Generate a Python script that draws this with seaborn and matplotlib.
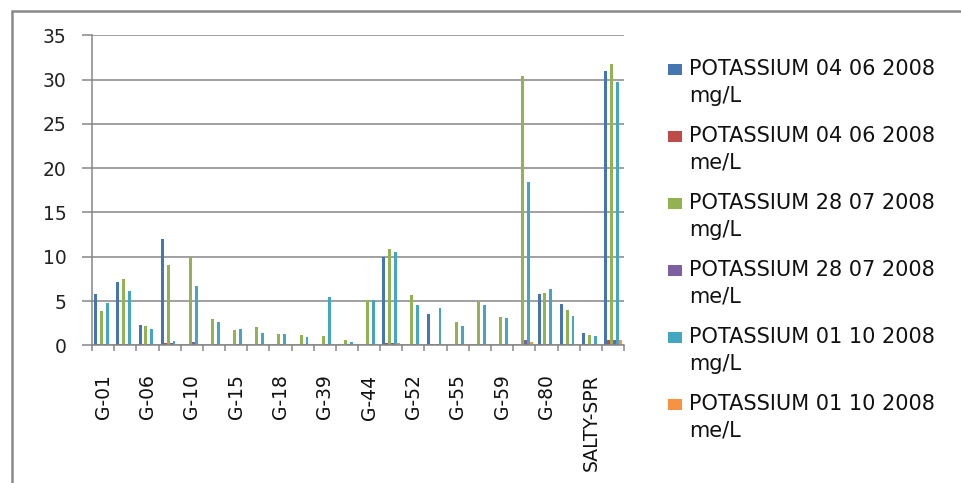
import numpy as np
import pandas as pd
import matplotlib
matplotlib.use("Agg")
import matplotlib.pyplot as plt
from matplotlib.lines import Line2D
from matplotlib.patches import Rectangle
import seaborn as sns

nan = np.nan

# Sampling sites (24 positions; only every other one carries a tick label)
tick_labels = ["G-01", "", "G-06", "", "G-10", "", "G-15", "", "G-18", "",
               "G-39", "", "G-44", "", "G-52", "", "G-55", "", "G-59", "",
               "G-80", "", "SALTY-SPR", ""]

series_names = [
    "POTASSIUM 04 06 2008\nmg/L",
    "POTASSIUM 04 06 2008\nme/L",
    "POTASSIUM 28 07 2008\nmg/L",
    "POTASSIUM 28 07 2008\nme/L",
    "POTASSIUM 01 10 2008\nmg/L",
    "POTASSIUM 01 10 2008\nme/L",
]

k_0406_mg = [5.8, 7.2, 2.3, 12.0, nan, nan, nan, nan, nan, nan, nan, nan,
             nan, 10.0, nan, 3.5, nan, nan, nan, nan, 5.8, 4.7, 1.4, 31.0]
k_0406_me = [0.15, 0.18, 0.12, 0.3, nan, nan, nan, nan, nan, nan, nan, nan,
             nan, 0.26, nan, 0.12, nan, nan, nan, nan, 0.15, 0.12, 0.1, 0.65]
k_2807_mg = [3.9, 7.5, 2.2, 9.1, 10.0, 3.0, 1.7, 2.1, 1.3, 1.2, 1.1, 0.6,
             5.1, 10.9, 5.7, nan, 2.6, 4.9, 3.2, 30.4, 5.9, 4.0, 1.2, 31.8]
k_2807_me = [0.12, 0.15, 0.12, 0.26, 0.38, 0.12, 0.12, 0.12, 0.12, 0.12, 0.12, 0.12,
             0.13, 0.26, 0.12, 0.1, 0.12, 0.13, 0.12, 0.6, 0.15, 0.12, 0.1, 0.65]
k_0110_mg = [4.8, 6.1, 1.85, 0.5, 6.7, 2.6, 1.85, 1.4, 1.3, 0.95, 5.5, 0.4,
             5.1, 10.5, 4.55, 4.2, 2.2, 4.55, 3.1, 18.4, 6.35, 3.3, 1.05, 29.7]
k_0110_me = [0.12, 0.15, 0.1, 0.12, 0.15, 0.12, 0.12, 0.12, 0.12, 0.1, 0.14, 0.1,
             0.13, 0.26, 0.12, 0.11, 0.1, 0.12, 0.1, 0.38, 0.16, 0.1, 0.1, 0.65]

y_ticks = [0, 5, 10, 15, 20, 25, 30, 35]

colors = ["#4676B0", "#BE4B48", "#93B352", "#7D60A0", "#44A6C0", "#F69240"]

# Long-form table for seaborn
site_idx = list(range(len(tick_labels)))
frames = []
for name, vals in zip(series_names, [k_0406_mg, k_0406_me, k_2807_mg,
                                     k_2807_me, k_0110_mg, k_0110_me]):
    frames.append(pd.DataFrame({"site": site_idx, "series": name, "value": vals}))
df = pd.concat(frames, ignore_index=True)

sns.set_theme(style="white")
plt.rcParams["font.family"] = ["DejaVu Sans"]

W, H = 961, 483
fig = plt.figure(figsize=(W / 100, H / 100), dpi=100)
ax = fig.add_axes([92 / W, 1 - 345.3 / H, (624 - 92) / W, (345.3 - 35.3) / H])

sns.barplot(data=df, x="site", y="value", hue="series", order=site_idx,
            hue_order=series_names, palette=colors, errorbar=None,
            width=0.8, saturation=1, linewidth=0, ax=ax, legend=False)

grid_c = "#868686"
ax.set_ylim(0, 35)
ax.set_xlim(-0.5, len(site_idx) - 0.5)
ax.set_yticks(y_ticks)
ax.set_yticklabels([str(v) for v in y_ticks])
ax.yaxis.grid(True, color=grid_c, linewidth=1.1)
ax.set_axisbelow(True)
ax.set_xlabel("")
ax.set_ylabel("")

for side in ["top", "right"]:
    ax.spines[side].set_visible(False)
for side in ["left", "bottom"]:
    ax.spines[side].set_color(grid_c)
    ax.spines[side].set_linewidth(1.1)

ax.tick_params(axis="y", which="major", direction="out", length=7.2, width=1.1,
               color=grid_c, pad=11, labelsize=13.5, labelcolor="#222222", left=True)
ax.set_xticks(site_idx)
ax.set_xticklabels(tick_labels, rotation=90)
ax.tick_params(axis="x", which="major", length=0, pad=21, labelsize=13.5,
               labelcolor="#111111")
ax.set_xticks(np.arange(-0.5, len(site_idx)), minor=True)
ax.tick_params(axis="x", which="minor", direction="out", length=4.5, width=1.1,
               color=grid_c, bottom=True)

# Legend: colour key beside the first line of each two-line entry
def px(x, y):
    return x / W, 1 - y / H

first_line_y = 69.0
entry_step = 67.0
line_gap = 27.0
for i, (name, col) in enumerate(zip(series_names, colors)):
    yc = first_line_y + i * entry_step
    x0, y0 = px(668, yc + 5.5)
    fig.add_artist(Rectangle((x0, y0), 14 / W, 11 / H, transform=fig.transFigure,
                             facecolor=col, edgecolor="none"))
    head, unit = name.split("\n")
    tx, ty = px(689, yc)
    fig.text(tx, ty, head, fontsize=15, color="#111111", va="center", ha="left")
    tx, ty = px(689, yc + line_gap)
    fig.text(tx, ty, unit, fontsize=15, color="#111111", va="center", ha="left")

# Outer chart border (left and top edges)
fig.add_artist(Line2D([12 / W, 12 / W], [0, 1 - 11 / H], transform=fig.transFigure,
                      color="#8A8A8A", linewidth=1.8))
fig.add_artist(Line2D([12 / W, 1], [1 - 11 / H, 1 - 11 / H], transform=fig.transFigure,
                      color="#8A8A8A", linewidth=1.8))

fig.savefig("out.png", dpi=100, facecolor="white")
